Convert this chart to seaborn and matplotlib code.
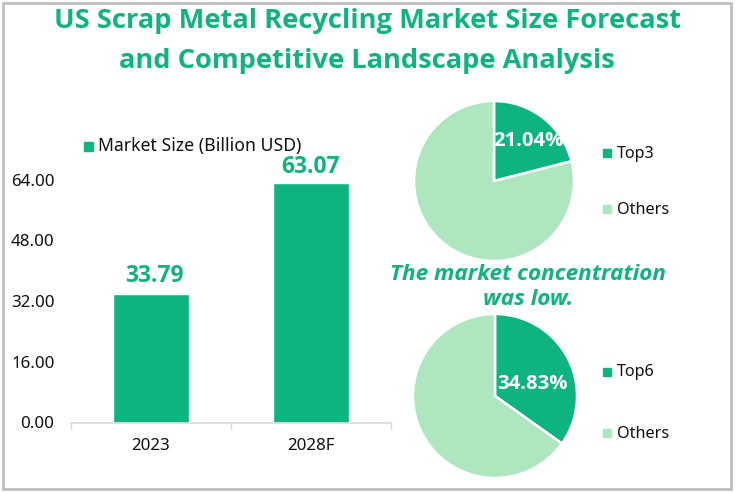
import matplotlib
matplotlib.use("Agg")
import matplotlib.pyplot as plt
from matplotlib.patches import Rectangle
import pandas as pd
import seaborn as sns

# data
years = ["2023", "2028F"]
market_size = [33.79, 63.07]
y_ticks = [0, 16, 32, 48, 64]
top3_share = [21.04, 78.96]
top6_share = [34.83, 65.17]

GREEN = "#0DB47F"
LIGHT = "#AEE6C0"
W, H = 735, 493
BOLD = "Open Sans"

sns.set_theme(style="white")
plt.rcParams["font.family"] = ["Noto Sans", "DejaVu Sans"]


def px_axes(fig, x0, y0, x1, y1):
    # axes from pixel box, y measured from the top
    return fig.add_axes([x0 / W, 1 - y1 / H, (x1 - x0) / W, (y1 - y0) / H])


def draw_pie(fig, cx, cy, r, shares, label, legend_y):
    ax = px_axes(fig, cx - r, cy - r, cx + r, cy + r)
    ax.pie(shares, colors=[GREEN, LIGHT], startangle=90, counterclock=False,
           radius=1.0, wedgeprops={"edgecolor": "white", "linewidth": 1.8})
    ax.set_xlim(-1, 1)
    ax.set_ylim(-1, 1)
    for y, name, col in zip(legend_y, [label, "Others"], [GREEN, LIGHT]):
        fig.patches.append(Rectangle((603 / W, 1 - (y + 4) / H), 8 / W, 8 / H,
                                     transform=fig.transFigure, color=col))
        fig.text(616.5 / W, 1 - (y + 0.5) / H, name, fontsize=11.6, color="#111111", va="center")
    return ax


fig = plt.figure(figsize=(W / 100, H / 100), dpi=100, facecolor="white")

# grey frame around the picture
fig.patches.append(Rectangle((3 / W, 1 - 489 / H), 728 / W, 486 / H, transform=fig.transFigure,
                             fill=False, edgecolor="#BFBFBF", linewidth=2))

fig.text(367 / W, 1 - 21 / H, "US Scrap Metal Recycling Market Size Forecast", fontsize=19.6,
         family=BOLD, fontweight="bold", color=GREEN, ha="center", va="center")
fig.text(367 / W, 1 - 61 / H, "and Competitive Landscape Analysis", fontsize=19.6,
         family=BOLD, fontweight="bold", color=GREEN, ha="center", va="center")

# bars
ax = px_axes(fig, 71, 179.5, 391, 422.5)
df = pd.DataFrame({"year": years, "size": market_size})
sns.barplot(data=df, x="year", y="size", color=GREEN, width=0.47, saturation=1, ax=ax)
ax.set_ylim(0, 64)
ax.set_xlim(-0.5, 1.5)
ax.set_yticks(y_ticks)
ax.set_yticklabels([f"{v:.2f}" for v in y_ticks], fontsize=12.2, color="#111111")
ax.set_xlabel("")
ax.set_ylabel("")
ax.patch.set_alpha(0)
for side in ["top", "right", "left"]:
    ax.spines[side].set_visible(False)
ax.spines["bottom"].set_color("#D9D9D9")
ax.tick_params(axis="y", length=0, pad=12)
ax.tick_params(axis="x", length=0, pad=11, labelsize=12.2, labelcolor="#111111")
for xt in [-0.5, 0.5, 1.5]:
    ax.plot([xt, xt], [0, -1.6], color="#D9D9D9", lw=1, clip_on=False)
# labels sit a little off centre in the original
for i, (v, dx, dy) in enumerate(zip(market_size, [2.5, -0.5], [4.5, 3])):
    ax.annotate(f"{v:.2f}", (i, v), xytext=(dx, dy), textcoords="offset points", fontsize=16.5,
                family=BOLD, fontweight="bold", color=GREEN, ha="center", va="bottom")

fig.patches.append(Rectangle((84 / W, 1 - 150.5 / H), 9 / W, 9 / H, transform=fig.transFigure, color=GREEN))
fig.text(98 / W, 1 - 146 / H, "Market Size (Billion USD)", fontsize=12.7, color="#111111", va="center")

# pies
draw_pie(fig, 494, 181, 80, top3_share, "Top3", [153, 209])
draw_pie(fig, 495, 396, 82, top6_share, "Top6", [372, 433])
fig.text(528.5 / W, 1 - 141 / H, "21.04%", fontsize=14.6, family=BOLD, fontweight="bold", color="white", ha="center", va="center")
fig.text(532 / W, 1 - 384 / H, "34.83%", fontsize=14.6, family=BOLD, fontweight="bold", color="white", ha="center", va="center")

fig.text(528 / W, 1 - 274 / H, "The market concentration", fontsize=16.2, family=BOLD, fontweight="bold",
         fontstyle="italic", color=GREEN, ha="center", va="center")
fig.text(528 / W, 1 - 299.5 / H, "was low.", fontsize=16.2, family=BOLD, fontweight="bold",
         fontstyle="italic", color=GREEN, ha="center", va="center")

fig.savefig("out.png", dpi=100)
plt.close(fig)
